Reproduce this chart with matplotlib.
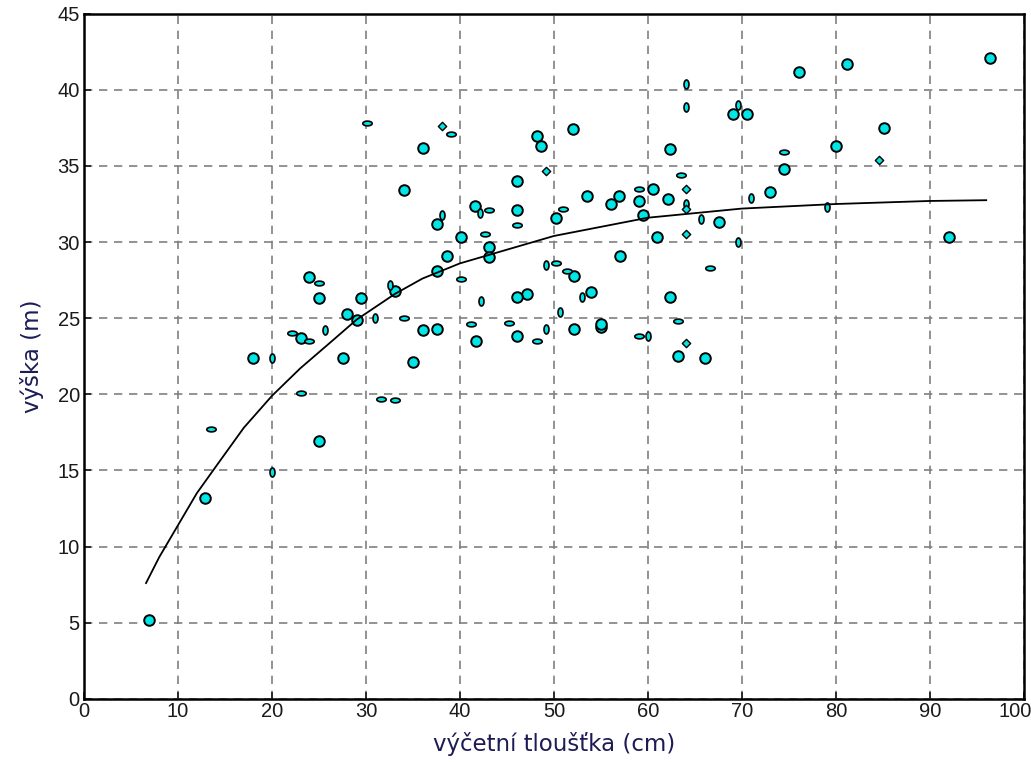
import matplotlib
matplotlib.use('Agg')
import matplotlib.pyplot as plt
import matplotlib.transforms as mtransforms
from matplotlib.path import Path
import numpy as np

# measured trees: diameter (cm), height (m)
# marker kind: B = full circle, H = flat ellipse, V = upright ellipse, T = tiny
big_d = [6.9, 12.9, 25.0, 18.0, 23.1, 27.6, 28.0, 29.0, 25.0, 29.5, 33.1, 36.1,
         37.6, 35.0, 41.7, 36.1, 34.1, 41.6, 37.6, 40.1, 43.1, 43.1, 38.6, 37.6,
         23.9, 48.2, 48.6, 52.0, 46.1, 46.1, 53.5, 56.1, 56.9, 60.5, 59.1, 62.1,
         62.4, 69.1, 70.6, 50.2, 59.5, 67.6, 61.0, 57.0, 52.1, 47.1, 46.1, 53.9,
         62.4, 52.1, 55.0, 55.0, 46.1, 63.2, 66.1, 76.1, 81.2, 96.4, 74.5, 80.0,
         85.1, 73.0, 92.0]
big_h = [5.15, 13.2, 16.9, 22.4, 23.7, 22.4, 25.3, 24.9, 26.3, 26.3, 26.8, 24.2,
         24.3, 22.1, 23.5, 36.2, 33.4, 32.4, 31.2, 30.3, 29.7, 29.0, 29.1, 28.1,
         27.7, 37.0, 36.3, 37.4, 34.0, 32.1, 33.0, 32.5, 33.0, 33.5, 32.7, 32.8,
         36.1, 38.4, 38.4, 31.6, 31.8, 31.3, 30.3, 29.1, 27.8, 26.6, 26.4, 26.7,
         26.4, 24.3, 24.4, 24.6, 23.8, 22.5, 22.4, 41.2, 41.7, 42.1, 34.8, 36.3,
         37.5, 33.3, 30.3]

flat_d = [13.5, 23.1, 22.1, 23.9, 31.6, 33.1, 34.1, 41.2, 30.1, 39.1, 43.1, 42.7,
          40.1, 25.0, 46.1, 59.1, 63.5, 51.0, 50.2, 51.4, 66.6, 45.2, 48.2, 59.1,
          63.2, 74.5]
flat_h = [17.7, 20.1, 24.0, 23.5, 19.7, 19.6, 25.0, 24.6, 37.8, 37.1, 32.1, 30.5,
          27.6, 27.3, 31.1, 33.5, 34.4, 32.2, 28.6, 28.1, 28.3, 24.7, 23.5, 23.8,
          24.8, 35.9]

upright_d = [20.0, 20.0, 25.6, 31.0, 42.2, 42.1, 38.1, 32.6, 64.1, 64.1, 69.6,
             65.6, 69.6, 49.2, 53.0, 50.6, 49.2, 60.0, 64.1, 71.0, 79.1]
upright_h = [14.9, 22.4, 24.2, 25.0, 26.1, 31.9, 31.8, 27.2, 32.5, 38.9, 39.0,
             31.5, 30.0, 28.5, 26.4, 25.4, 24.3, 23.8, 40.4, 32.9, 32.3]

tiny_d = [38.1, 49.2, 64.1, 64.1, 64.1, 64.1, 84.6]
tiny_h = [37.6, 34.7, 33.5, 32.2, 30.5, 23.4, 35.4]

# fitted height curve
curve_d = [6.6, 8, 10, 12, 14.2, 17, 20, 23, 26.2, 29, 33.1, 36, 40, 45, 50, 55,
           60, 65, 70, 80, 90, 96]
curve_h = [7.6, 9.3, 11.4, 13.5, 15.4, 17.8, 19.9, 21.7, 23.4, 24.9, 26.6, 27.6,
           28.6, 29.5, 30.4, 31.0, 31.6, 31.9, 32.2, 32.5, 32.7, 32.75]


def ellipse_marker(sx, sy):
    t = np.linspace(0, 2 * np.pi, 40)
    verts = np.column_stack([sx * np.cos(t), sy * np.sin(t)])
    return Path(verts, closed=True)


flat = ellipse_marker(1.0, 0.5)
upright = ellipse_marker(0.55, 1.0)

plt.rcParams['font.family'] = ['Liberation Sans', 'DejaVu Sans']

fig = plt.figure(figsize=(10.31, 7.62), dpi=100)
ax = fig.add_axes([0.0815, 0.083, 0.9115, 0.899])

ax.set_xlim(0, 100)
ax.set_ylim(0, 45)
ax.set_xticks(np.arange(0, 101, 10))
ax.set_yticks(np.arange(0, 46, 5))

ax.grid(True, color='#808080', linestyle=(0, (5, 4)), linewidth=1.2)
ax.set_axisbelow(True)

face = '#00e5e5'
ax.scatter(big_d, big_h, s=58, marker='o', facecolor=face, edgecolor='black',
           linewidth=1.4, zorder=3)
ax.scatter(flat_d, flat_h, s=46, marker=flat, facecolor=face, edgecolor='black',
           linewidth=1.2, zorder=3)
ax.scatter(upright_d, upright_h, s=42, marker=upright, facecolor=face,
           edgecolor='black', linewidth=1.2, zorder=3)
ax.scatter(tiny_d, tiny_h, s=18, marker='D', facecolor=face, edgecolor='black',
           linewidth=1.0, zorder=3)

ax.plot(curve_d, curve_h, color='black', linewidth=1.3, zorder=4)

for sp in ax.spines.values():
    sp.set_linewidth(1.8)
    sp.set_color('black')

ax.tick_params(direction='in', length=5, width=1.2, labelsize=14.5,
               colors='#1a1a1a', pad=3)
ax.tick_params(axis='x', pad=2)

# keep the last x label inside the figure
fig.canvas.draw()
last = ax.get_xticklabels()[-1]
last.set_transform(last.get_transform() +
                   mtransforms.ScaledTranslation(-0.09, 0, fig.dpi_scale_trans))

label_color = '#1c1c55'
ax.set_xlabel('výčetní tloušťka (cm)', fontsize=16.5, color=label_color,
              family='DejaVu Sans', labelpad=8)
ax.set_ylabel('výška (m)', fontsize=16.5, color=label_color,
              family='DejaVu Sans', labelpad=10)

fig.savefig('out.png', dpi=100)
